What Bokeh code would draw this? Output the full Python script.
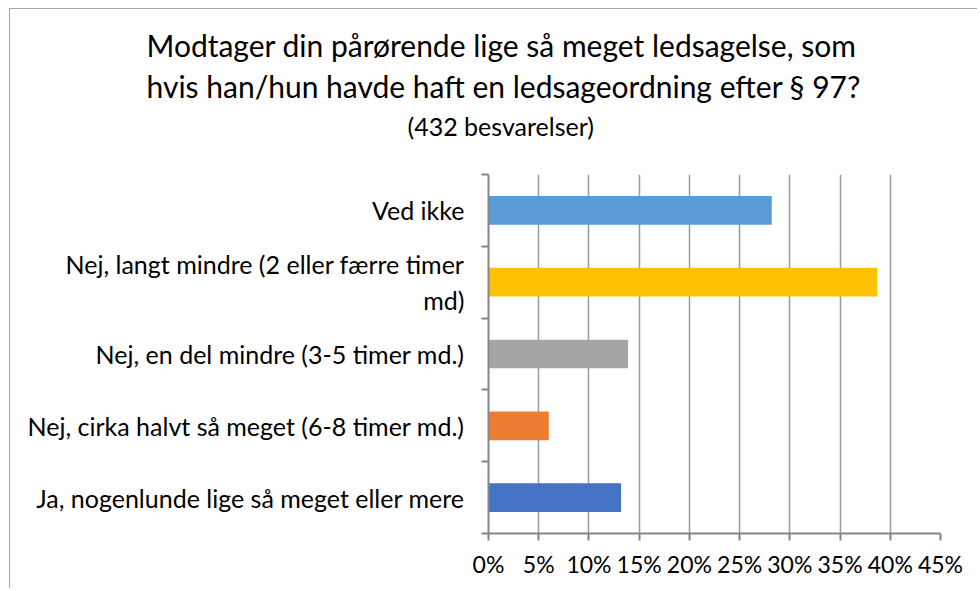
from bokeh.plotting import figure
from bokeh.models import FixedTicker, Range1d, ColumnDataSource, Title
from bokeh.embed import file_html
from bokeh.resources import INLINE

# ---- data (top to bottom as shown) ----
categories = [
    "Ved ikke",
    "Nej, langt mindre (2 eller færre timer\nmd)",
    "Nej, en del mindre (3-5 timer md.)",
    "Nej, cirka halvt så meget (6-8 timer md.)",
    "Ja, nogenlunde lige så meget eller mere",
]
values = [28.2, 38.7, 13.9, 6.0, 13.2]
colors = ["#5B9BD5", "#FFC000", "#A5A5A5", "#ED7D31", "#4472C4"]
x_ticks = [0, 5, 10, 15, 20, 25, 30, 35, 40, 45]
x_tick_labels = [f"{t}%" for t in x_ticks]
title_lines = [
    "Modtager din pårørende lige så meget ledsagelse, som",
    "hvis han/hun havde haft en ledsageordning efter § 97?",
]
subtitle = "(432 besvarelser)"

n = len(categories)
centers = [n - i - 0.5 for i in range(n)]

FONT = "Lato"

p = figure(
    width=968, height=580,
    output_backend="svg", toolbar_location=None,
    x_range=Range1d(0, 45), y_range=Range1d(0, n),
    min_border_left=478, min_border_right=38,
    min_border_top=165, min_border_bottom=56,
    title=None,
)
p.styles = {"margin-left": "9px", "margin-top": "8px",
            "border-top": "1px solid #a6a6a6", "border-left": "1px solid #a6a6a6"}
p.outline_line_color = None
p.background_fill_color = "white"
p.border_fill_color = "white"

src = ColumnDataSource(dict(y=centers, right=values, color=colors))
p.hbar(y="y", left=0, right="right", height=0.4, color="color", line_color=None, source=src)

# x axis
p.xaxis.ticker = FixedTicker(ticks=x_ticks)
p.xaxis.major_label_overrides = {t: l for t, l in zip(x_ticks, x_tick_labels)}
p.xaxis.axis_line_color = "#868686"
p.xaxis.axis_line_width = 2
p.xaxis.major_tick_line_color = "#868686"
p.xaxis.major_tick_line_width = 2
p.xaxis.major_tick_out = 7
p.xaxis.major_tick_in = 0
p.xaxis.minor_tick_line_color = None
p.xaxis.major_label_text_font = FONT
p.xaxis.major_label_text_font_size = "23px"
p.xaxis.major_label_text_color = "black"
p.xaxis.major_label_standoff = 9

# y axis: labels at centers, minor ticks at boundaries
p.yaxis.ticker = FixedTicker(ticks=centers, minor_ticks=list(range(n + 1)))
p.yaxis.major_label_overrides = {c: lab for c, lab in zip(centers, categories)}
p.yaxis.axis_line_color = "#868686"
p.yaxis.axis_line_width = 2
p.yaxis.major_tick_line_color = None
p.yaxis.minor_tick_line_color = "#868686"
p.yaxis.minor_tick_line_width = 2
p.yaxis.minor_tick_out = 7
p.yaxis.minor_tick_in = 0
p.yaxis.major_label_text_font = FONT
p.yaxis.major_label_text_font_size = "25px"
p.yaxis.major_label_text_color = "black"
p.yaxis.major_label_standoff = 17

p.xgrid.ticker = FixedTicker(ticks=x_ticks)
p.xgrid.grid_line_color = "#9a9a9a"
p.xgrid.grid_line_width = 1.5
p.ygrid.grid_line_color = None

# titles (added nearest-to-frame first)
spacer = Title(text=" ", align="left", text_font=FONT, text_font_size="2px", standoff=26)
t_sub = Title(text=subtitle, align="left", offset=-81, text_font=FONT, text_font_size="25px",
              text_font_style="normal", text_color="black", standoff=7)
t2 = Title(text=title_lines[1], align="left", offset=-342, text_font=FONT, text_font_size="30px",
           text_font_style="normal", text_color="black", standoff=4)
t1 = Title(text=title_lines[0], align="left", offset=-342, text_font=FONT, text_font_size="30px",
           text_font_style="normal", text_color="black", standoff=2)
p.add_layout(spacer, "above")
p.add_layout(t_sub, "above")
p.add_layout(t2, "above")
p.add_layout(t1, "above")

open("out.html", "w").write(file_html(p, INLINE))
